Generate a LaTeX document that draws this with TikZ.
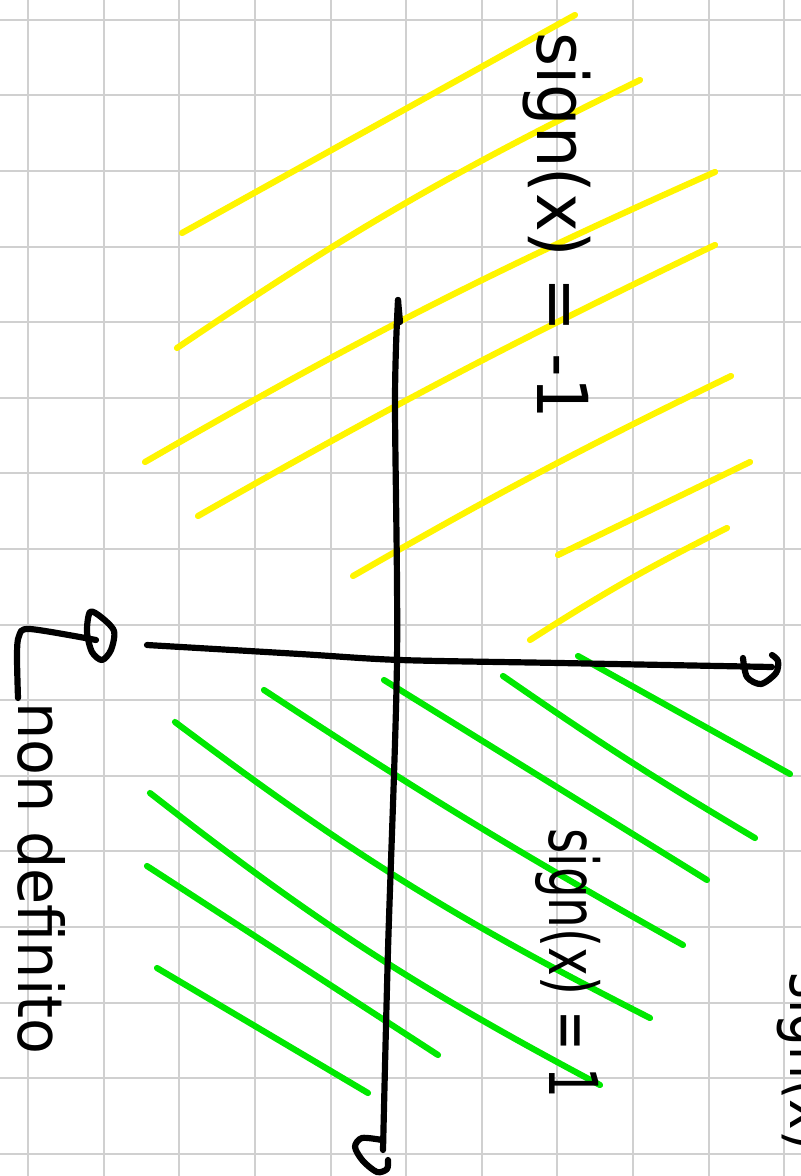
\documentclass[tikz,border=0pt]{standalone}
\usepackage{fontspec}
\setsansfont{DejaVu Sans}
\definecolor{gridgray}{RGB}{208,208,208}
\definecolor{hlyellow}{RGB}{255,245,0}
\definecolor{hlgreen}{RGB}{0,232,0}
\begin{document}
\begin{tikzpicture}[x=0.025cm,y=-0.025cm,line cap=round,line join=round,
  gridline/.style={draw=gridgray,line width=1.4pt},
  hatchY/.style={draw=hlyellow,line width=4.4pt},
  hatchG/.style={draw=hlgreen,line width=4.4pt},
  ink/.style={draw=black,line width=4.4pt},
  hand/.style={font=\sffamily, text=black, rotate=-90, anchor=base west, inner sep=0pt}]
\useasboundingbox (0,0) rectangle (801,1176);
\clip (0,0) rectangle (801,1176);
\fill[white] (0,0) rectangle (801,1176);
% grid
\foreach \i in {0,...,10} \draw[gridline] ({28.2+75.6*\i},0) -- ({28.2+75.6*\i},1176);
\foreach \j in {0,...,15} \draw[gridline] (0,{19.8+75.6*\j}) -- (801,{19.8+75.6*\j});
% yellow hatching
\draw[hatchY] (182,233) -- (575,15);
\draw[hatchY] (177,348) to[bend left=4] (640,80);
\draw[hatchY] (145,462) to[bend left=3] (715,172);
\draw[hatchY] (198,516) to[bend left=2] (715,245);
\draw[hatchY] (353,576) to[bend left=2] (731,376);
\draw[hatchY] (558,555) -- (750,462);
\draw[hatchY] (530,640) to[bend left=3] (727,528);
% green hatching
\draw[hatchG] (578,656) -- (790,774);
\draw[hatchG] (503,676) to[bend right=2] (755,838);
\draw[hatchG] (384,680) -- (707,880);
\draw[hatchG] (264,690) to[bend right=2] (683,945);
\draw[hatchG] (175,722) to[bend right=5] (650,1018);
\draw[hatchG] (150,793) to[bend right=5] (600,1085);
\draw[hatchG] (147,866) -- (438,1055);
\draw[hatchG] (157,968) -- (368,1093);
% axes
\coordinate (yTop) at (398,300);
\coordinate (yBot) at (383,1150);
\coordinate (xLeft) at (147,645);
\coordinate (xRight) at (772,667);
\draw[ink] plot[smooth] coordinates {(yTop) (395,400) (397,660) (388,950) (yBot)};
\draw[ink] (yTop) -- (400,322);
\draw[ink] plot[smooth] coordinates {(xLeft) (300,654) (400,660) (560,663) (xRight)};
% right arrowhead
\draw[ink] plot[smooth] coordinates {(743,658) (747,677) (761,684) (776,673) (778,661) (772,655)};
% bottom arrowhead
\draw[ink] plot[smooth] coordinates {(382,1140) (362,1138) (355,1147) (363,1161) (377,1172) (387,1169) (388,1160)};
% pointer from "non definito"
\coordinate (brStart) at (18,698);
\coordinate (brEnd) at (96,640);
\draw[ink] plot[smooth] coordinates {(brStart) (17,655) (19,636) (30,629) (brEnd)};
\draw[ink] plot[smooth cycle] coordinates {(114,631) (101,617) (90,612) (87,632) (92,652) (102,660) (111,650)};
% texts
\node[hand, font=\sffamily\fontsize{50}{50}\selectfont] (tNeg) at (537,32) {\scalebox{0.93}[1]{sign(x) = -1}};
\node[hand, font=\sffamily\fontsize{48}{48}\selectfont] (tPos) at (549,828) {\scalebox{0.72}[1]{sign(x) = 1}};
\node[hand, font=\sffamily\fontsize{44}{44}\selectfont] (tNd) at (18,702) {\scalebox{0.95}[1]{non definito}};
\node[hand, font=\sffamily\fontsize{46}{46}\selectfont] (tCut) at (790,972) {\scalebox{0.8}[1]{sign(x)}};
\end{tikzpicture}
\end{document}
